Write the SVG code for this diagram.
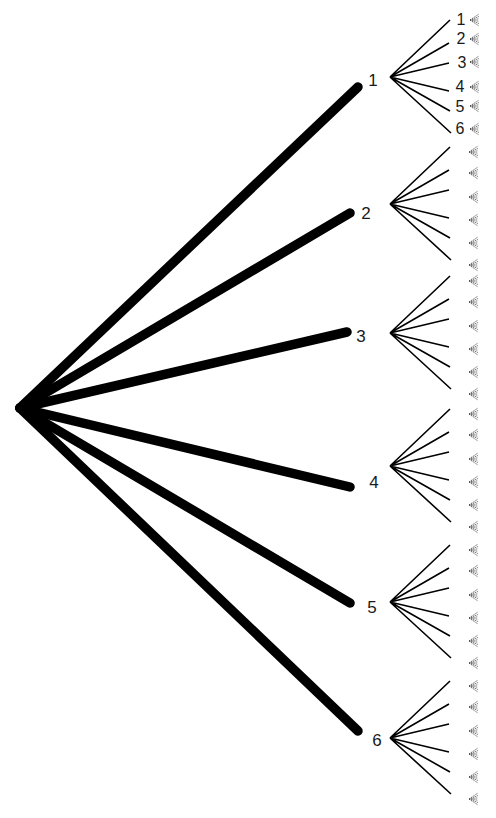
<svg xmlns="http://www.w3.org/2000/svg" xmlns:xlink="http://www.w3.org/1999/xlink" width="496" height="818" viewBox="0 0 496 818">
<style>
.thick{stroke:#000;stroke-width:9.5;stroke-linecap:round;fill:none}
.thin{stroke:#000;stroke-width:1.6;fill:none}
.mini path{stroke:#555;stroke-width:0.9;stroke-dasharray:1.3 0.9;fill:none}
text{font-family:"Liberation Sans",Arial,sans-serif;font-size:17px;fill:#1a1a1a;text-anchor:middle}
text.leaf{font-size:16px}
</style>
<defs>
<g id="mini" class="mini">
<path d="M0 0L9 -6M0 0L9 -3.5M0 0L9 -1.2M0 0L9 1.2M0 0L9 3.5M0 0L9 6"/>
</g>
</defs>
<rect width="496" height="818" fill="#fff"/>
<g id="edges">
<g id="level1">
<path class="thick" d="M20 408L358 87"/>
<path class="thick" d="M20 408L350 213"/>
<path class="thick" d="M20 408L347 332"/>
<path class="thick" d="M20 408L350 487"/>
<path class="thick" d="M20 408L350 603"/>
<path class="thick" d="M20 408L358 731"/>
</g>
<g id="level2">
<path class="thin" d="M390 77L450 20M390 77L449 43M390 77L449 63M390 77L449 91M390 77L450 111M390 77L451 133"/>
<path class="thin" d="M390 204L450 147M390 204L449 170M390 204L449 190M390 204L449 218M390 204L450 238M390 204L451 260"/>
<path class="thin" d="M390 333L450 276M390 333L449 299M390 333L449 319M390 333L449 347M390 333L450 367M390 333L451 389"/>
<path class="thin" d="M390 466L450 409M390 466L449 432M390 466L449 452M390 466L449 480M390 466L450 500M390 466L451 522"/>
<path class="thin" d="M390 602L450 545M390 602L449 568M390 602L449 588M390 602L449 616M390 602L450 636M390 602L451 658"/>
<path class="thin" d="M390 738L450 681M390 738L449 704M390 738L449 724M390 738L449 752M390 738L450 772M390 738L451 794"/>
</g>
</g>
<g id="root"><circle cx="20" cy="408" r="0.1" fill="#000"/></g>
<g id="n1"><text x="373" y="86">1</text></g>
<g id="n2"><text x="366" y="219">2</text></g>
<g id="n3"><text x="361" y="342">3</text></g>
<g id="n4"><text x="374" y="488">4</text></g>
<g id="n5"><text x="372" y="613">5</text></g>
<g id="n6"><text x="377" y="746">6</text></g>
<g id="n1-1"><text class="leaf" x="461" y="25">1</text><use xlink:href="#mini" x="470" y="20"/></g>
<g id="n1-2"><text class="leaf" x="461" y="44">2</text><use xlink:href="#mini" x="470" y="39"/></g>
<g id="n1-3"><text class="leaf" x="462" y="68">3</text><use xlink:href="#mini" x="470" y="62"/></g>
<g id="n1-4"><text class="leaf" x="460" y="92">4</text><use xlink:href="#mini" x="470" y="87"/></g>
<g id="n1-5"><text class="leaf" x="460" y="112">5</text><use xlink:href="#mini" x="470" y="106"/></g>
<g id="n1-6"><text class="leaf" x="460" y="134">6</text><use xlink:href="#mini" x="470" y="129"/></g>
<g id="n2-leaves">
<use xlink:href="#mini" x="469" y="152"/><use xlink:href="#mini" x="469" y="173"/><use xlink:href="#mini" x="469" y="197"/><use xlink:href="#mini" x="469" y="220"/><use xlink:href="#mini" x="469" y="243"/><use xlink:href="#mini" x="469" y="265"/>
</g>
<g id="n3-leaves">
<use xlink:href="#mini" x="469" y="281"/><use xlink:href="#mini" x="469" y="302"/><use xlink:href="#mini" x="469" y="326"/><use xlink:href="#mini" x="469" y="349"/><use xlink:href="#mini" x="469" y="372"/><use xlink:href="#mini" x="469" y="394"/>
</g>
<g id="n4-leaves">
<use xlink:href="#mini" x="469" y="414"/><use xlink:href="#mini" x="469" y="435"/><use xlink:href="#mini" x="469" y="459"/><use xlink:href="#mini" x="469" y="482"/><use xlink:href="#mini" x="469" y="505"/><use xlink:href="#mini" x="469" y="527"/>
</g>
<g id="n5-leaves">
<use xlink:href="#mini" x="469" y="550"/><use xlink:href="#mini" x="469" y="571"/><use xlink:href="#mini" x="469" y="595"/><use xlink:href="#mini" x="469" y="618"/><use xlink:href="#mini" x="469" y="641"/><use xlink:href="#mini" x="469" y="663"/>
</g>
<g id="n6-leaves">
<use xlink:href="#mini" x="469" y="686"/><use xlink:href="#mini" x="469" y="707"/><use xlink:href="#mini" x="469" y="731"/><use xlink:href="#mini" x="469" y="754"/><use xlink:href="#mini" x="469" y="777"/><use xlink:href="#mini" x="469" y="799"/>
</g>
</svg>
